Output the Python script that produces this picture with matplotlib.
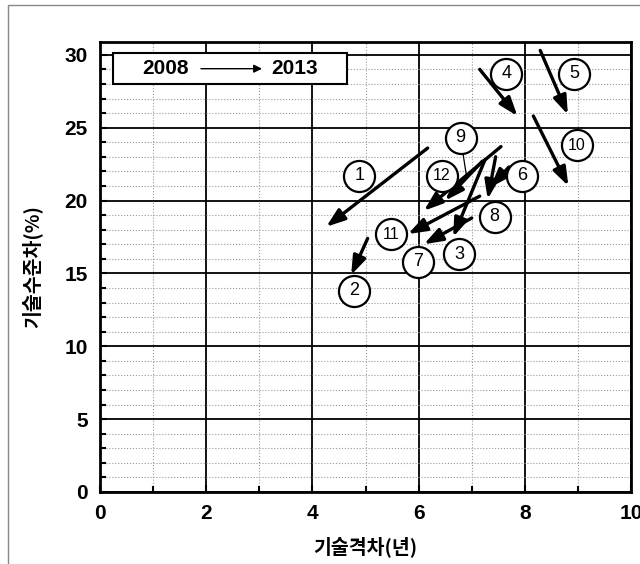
import numpy as np
import matplotlib.pyplot as plt
from matplotlib.patches import Rectangle
from matplotlib.ticker import MultipleLocator

plt.rcParams['font.family'] = ['Liberation Sans', 'Noto Sans CJK KR', 'DejaVu Sans']

# arrows: 2008 -> 2013 (x: tech gap in years, y: tech level gap in %)
ids = ['1', '2', '3', '4', '5', '6', '7', '8', '9', '10', '11', '12']
x_2008 = [6.17, 5.04, 7.25, 7.15, 8.29, 7.70, 7.00, 7.45, 7.55, 8.16, 7.15, 7.20]
y_2008 = [23.6, 17.4, 22.8, 29.0, 30.3, 22.3, 18.8, 23.0, 23.7, 25.8, 20.3, 22.7]
x_2013 = [4.26, 4.73, 6.65, 7.86, 8.81, 7.35, 6.10, 7.30, 6.10, 8.82, 5.80, 6.50]
y_2013 = [18.2, 14.9, 17.5, 25.8, 25.9, 20.9, 17.0, 20.1, 19.3, 21.0, 17.7, 20.0]

# where the circled numbers sit
lab_x = [4.88, 4.79, 6.76, 7.65, 8.93, 7.95, 5.98, 7.43, 6.79, 8.98, 5.48, 6.44]
lab_y = [21.7, 13.8, 16.3, 28.7, 28.7, 21.7, 15.8, 18.9, 24.3, 23.8, 17.7, 21.7]

fig = plt.figure(figsize=(6.4, 5.64), dpi=100)
ax = fig.add_axes([0.1563, 0.1277, 0.8297, 0.7984])

# outer frame of the original figure
fig.patches.append(Rectangle((8/640, -0.05), 1.2, 1 - 5/564 + 0.05, transform=fig.transFigure,
                             fill=False, edgecolor='#888888', lw=1))

ax.set_xlim(0, 10)
ax.set_ylim(0, 30.9)
ax.xaxis.set_major_locator(MultipleLocator(2))
ax.xaxis.set_minor_locator(MultipleLocator(1))
ax.yaxis.set_major_locator(MultipleLocator(5))
ax.yaxis.set_minor_locator(MultipleLocator(1))
ax.grid(which='major', color='black', lw=1.3, ls='-')
ax.grid(which='minor', color='#999999', lw=0.8, ls=':')
ax.set_axisbelow(True)
for s in ax.spines.values():
    s.set_linewidth(2)
ax.tick_params(which='both', direction='in', width=1.5)
ax.tick_params(which='major', length=5, labelsize=15, pad=9)
ax.tick_params(which='minor', length=4)
for lb in ax.get_xticklabels() + ax.get_yticklabels():
    lb.set_fontweight('bold')

ax.set_xlabel('기술격차(년)', fontsize=14, fontweight='bold', family=['Noto Sans CJK KR', 'DejaVu Sans'], labelpad=9)
ax.set_ylabel('기술수준차(%)', fontsize=14, fontweight='bold', family=['Noto Sans CJK KR', 'DejaVu Sans'], labelpad=16)

# leader line from label 9 to its arrow
ax.plot([6.79, 6.9], [24.3, 21.7], color='black', lw=0.9, zorder=3)

for i in range(len(ids)):
    ax.annotate('', xy=(x_2013[i], y_2013[i]), xytext=(x_2008[i], y_2008[i]),
                arrowprops=dict(arrowstyle='-|>,head_length=0.7,head_width=0.25', lw=2.4, color='black',
                                mutation_scale=16, shrinkA=0, shrinkB=0), zorder=4)

ax.scatter(lab_x, lab_y, s=500, facecolor='white', edgecolor='black', lw=1.6, zorder=5)
for i in range(len(ids)):
    ax.text(lab_x[i], lab_y[i], ids[i], ha='center', va='center', fontsize=13 if len(ids[i]) == 1 else 11.5,
            zorder=6)

# legend box
ax.add_patch(Rectangle((0.025, 0.906), 0.44, 0.069, transform=ax.transAxes, facecolor='white',
                       edgecolor='black', lw=1.5, zorder=7))
ax.text(0.124, 0.94, '2008', transform=ax.transAxes, ha='center', va='center', fontsize=15,
        fontweight='bold', zorder=8)
ax.text(0.366, 0.94, '2013', transform=ax.transAxes, ha='center', va='center', fontsize=15,
        fontweight='bold', zorder=8)
ax.annotate('', xy=(0.305, 0.94), xytext=(0.19, 0.94), xycoords='axes fraction',
            arrowprops=dict(arrowstyle='-|>', lw=1, color='black', mutation_scale=12,
                            shrinkA=0, shrinkB=0), zorder=8)

fig.savefig('out.png', dpi=100)
